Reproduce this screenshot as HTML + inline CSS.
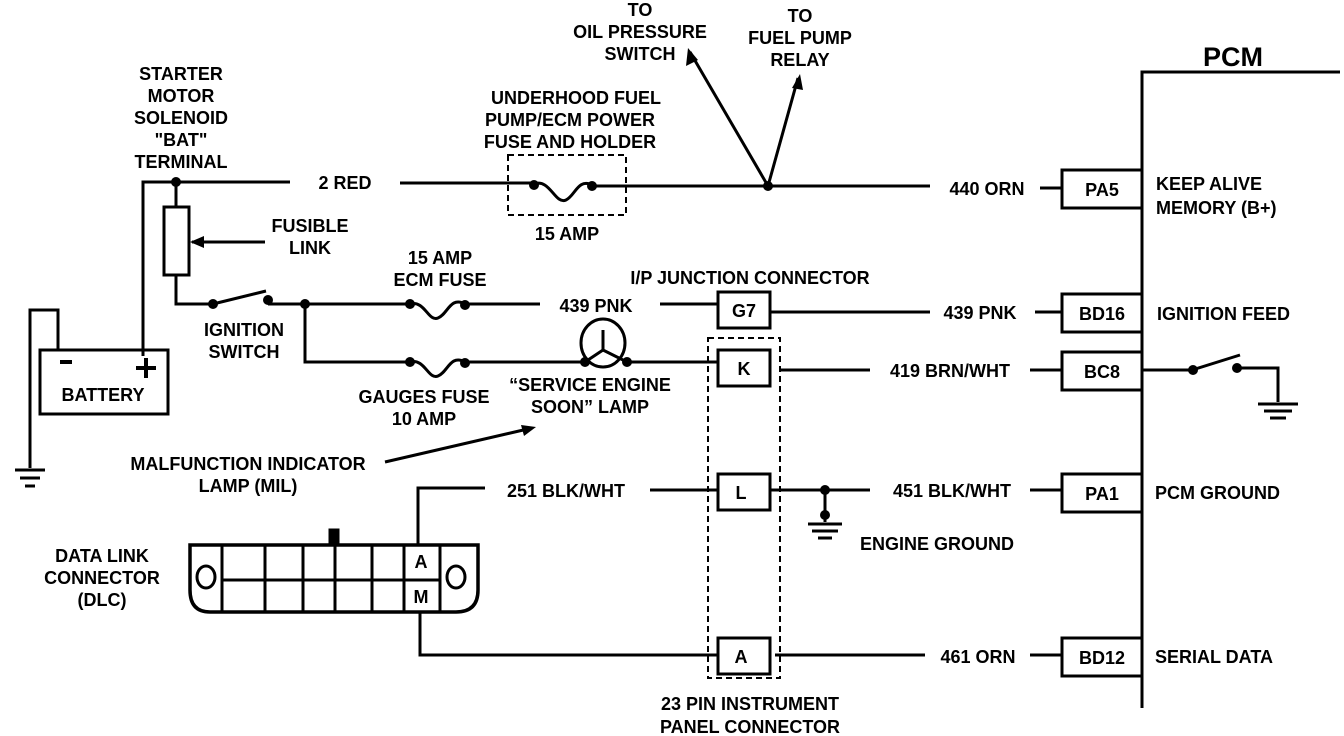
<!DOCTYPE html>
<html><head><meta charset="utf-8"><style>
html,body{margin:0;padding:0;background:#fff;}
svg{display:block;}
text{font-family:"Liberation Sans",sans-serif;font-weight:bold;font-size:18px;fill:#000;}
</style></head><body>
<svg width="1344" height="736" viewBox="0 0 1344 736" xmlns="http://www.w3.org/2000/svg">
<g stroke="#000" stroke-width="3" fill="none">
<path d="M1142 708V72H1340"/>
<rect x="1062" y="170" width="80" height="38"/>
<rect x="1062" y="294" width="80" height="38"/>
<rect x="1062" y="352" width="80" height="38"/>
<rect x="1062" y="474" width="80" height="38"/>
<rect x="1062" y="638" width="80" height="38"/>
<path d="M143 356V182H290M400 183H534M592 186H930M1040 188H1062"/>
<path d="M534 184 C550 178 555 205 566 200 C575 196 578 178 592 185"/>
<rect x="508" y="155" width="118" height="60" stroke-dasharray="6,4" stroke-width="2"/>
<path d="M768 186L690 52M768 186L798 78"/>
<path d="M176 182V207M176 275V304H213"/>
<rect x="164" y="207" width="25" height="68"/>
<path d="M265 242H192"/>
<path d="M213 304L266 291M268 304H410M465 304H540M660 304H718M770 312H930M1035 312H1062"/>
<path d="M410 304 C425 300 428 322 438 318 C448 314 450 296 465 304"/>
<path d="M305 304V362H410M465 362H585M627 362H718M780 370H870M1030 370H1062"/>
<path d="M410 362 C425 358 428 380 438 376 C448 372 450 354 465 362"/>
<ellipse cx="603" cy="343" rx="22" ry="24"/>
<path d="M585 362L603 350L627 362M603 350V330"/>
<rect x="718" y="292" width="52" height="36"/>
<rect x="718" y="350" width="52" height="36"/>
<rect x="718" y="474" width="52" height="36"/>
<rect x="718" y="638" width="52" height="36"/>
<rect x="708" y="338" width="72" height="340" stroke-dasharray="6,4" stroke-width="2"/>
<rect x="40" y="350" width="128" height="64"/>
<path d="M58 350V310H30V468"/>
<path d="M15 470H45M20 478H40M25 486H35"/>
<path d="M418 545V488H485M650 490H718M770 490H870M1030 490H1062M825 490V522"/>
<path d="M808 524H842M812 531H838M818 538H832"/>
<path d="M420 612V655H718M775 655H925M1030 655H1062"/>
<path d="M190 545H478V590Q478 612 456 612H210Q190 612 190 590Z" stroke-width="3.5"/>
<path d="M222 545V612M265 545V612M303 545V612M335 545V612M372 545V612M404 545V612M440 545V612M222 580H440"/>
<ellipse cx="206" cy="577" rx="9" ry="11"/><ellipse cx="456" cy="577" rx="9" ry="11"/>
<rect x="330" y="530" width="8" height="15" fill="#000"/>
<path d="M1142 370H1192L1240 355M1238 368H1278V402"/>
<path d="M1258 404H1298M1264 411H1292M1270 418H1286"/>
<path d="M385 462L532 428"/>
</g>
<g fill="#000">
<circle cx="176" cy="182" r="5"/><circle cx="768" cy="186" r="5"/>
<circle cx="534" cy="185" r="5"/><circle cx="592" cy="186" r="5"/>
<circle cx="213" cy="304" r="5"/><circle cx="268" cy="300" r="5"/><circle cx="305" cy="304" r="5"/>
<circle cx="410" cy="304" r="5"/><circle cx="465" cy="305" r="5"/>
<circle cx="410" cy="362" r="5"/><circle cx="465" cy="363" r="5"/>
<circle cx="585" cy="362" r="5"/><circle cx="627" cy="362" r="5"/>
<circle cx="825" cy="490" r="5"/><circle cx="825" cy="515" r="5"/>
<circle cx="1193" cy="370" r="5"/><circle cx="1237" cy="368" r="5"/>
<polygon points="190,242 204,236 204,248"/>
<polygon points="688,48 686,66 698,60"/>
<polygon points="800,74 792,88 803,90"/>
<polygon points="536,427 521,425 524,436"/>
<rect x="60" y="360" width="12" height="4"/>
<rect x="136" y="366" width="20" height="4"/><rect x="144" y="358" width="4" height="20"/>
</g>
<text x="1233" y="66" text-anchor="middle" style="font-size:27px">PCM</text>
<g text-anchor="middle">
<text x="181" y="80">STARTER</text><text x="181" y="102">MOTOR</text><text x="181" y="124">SOLENOID</text><text x="181" y="146">"BAT"</text><text x="181" y="168">TERMINAL</text>
<text x="345" y="189">2 RED</text>
<text x="576" y="104">UNDERHOOD  FUEL</text><text x="570" y="126">PUMP/ECM POWER</text><text x="570" y="148">FUSE AND HOLDER</text>
<text x="567" y="240">15 AMP</text>
<text x="640" y="16">TO</text><text x="640" y="38">OIL PRESSURE</text><text x="640" y="60">SWITCH</text>
<text x="800" y="22">TO</text><text x="800" y="44">FUEL PUMP</text><text x="800" y="66">RELAY</text>
<text x="987" y="195">440 ORN</text>
<text x="310" y="232">FUSIBLE</text><text x="310" y="254">LINK</text>
<text x="440" y="264">15 AMP</text><text x="440" y="286">ECM FUSE</text>
<text x="750" y="284">I/P JUNCTION CONNECTOR</text>
<text x="596" y="312">439 PNK</text>
<text x="980" y="319">439 PNK</text>
<text x="244" y="336">IGNITION</text><text x="244" y="358">SWITCH</text>
<text x="424" y="403">GAUGES FUSE</text><text x="424" y="425">10 AMP</text>
<text x="590" y="391">“SERVICE ENGINE</text><text x="590" y="413">SOON” LAMP</text>
<text x="103" y="401">BATTERY</text>
<text x="248" y="470">MALFUNCTION INDICATOR</text><text x="248" y="492">LAMP (MIL)</text>
<text x="566" y="497">251 BLK/WHT</text>
<text x="952" y="497">451 BLK/WHT</text>
<text x="950" y="377">419 BRN/WHT</text>
<text x="937" y="550">ENGINE GROUND</text>
<text x="102" y="562">DATA LINK</text><text x="102" y="584">CONNECTOR</text><text x="102" y="606">(DLC)</text>
<text x="978" y="663">461 ORN</text>
<text x="750" y="710">23 PIN INSTRUMENT</text><text x="750" y="733">PANEL CONNECTOR</text>
<text x="744" y="317">G7</text><text x="744" y="375">K</text><text x="741" y="499">L</text><text x="741" y="663">A</text>
<text x="1102" y="196">PA5</text><text x="1102" y="320">BD16</text><text x="1102" y="378">BC8</text><text x="1102" y="500">PA1</text><text x="1102" y="664">BD12</text>
<text x="421" y="568">A</text><text x="421" y="603">M</text>
</g>
<text x="1156" y="190">KEEP ALIVE</text><text x="1156" y="214">MEMORY (B+)</text>
<text x="1157" y="320">IGNITION FEED</text>
<text x="1155" y="499">PCM GROUND</text>
<text x="1155" y="663">SERIAL DATA</text>
</svg>
</body></html>
